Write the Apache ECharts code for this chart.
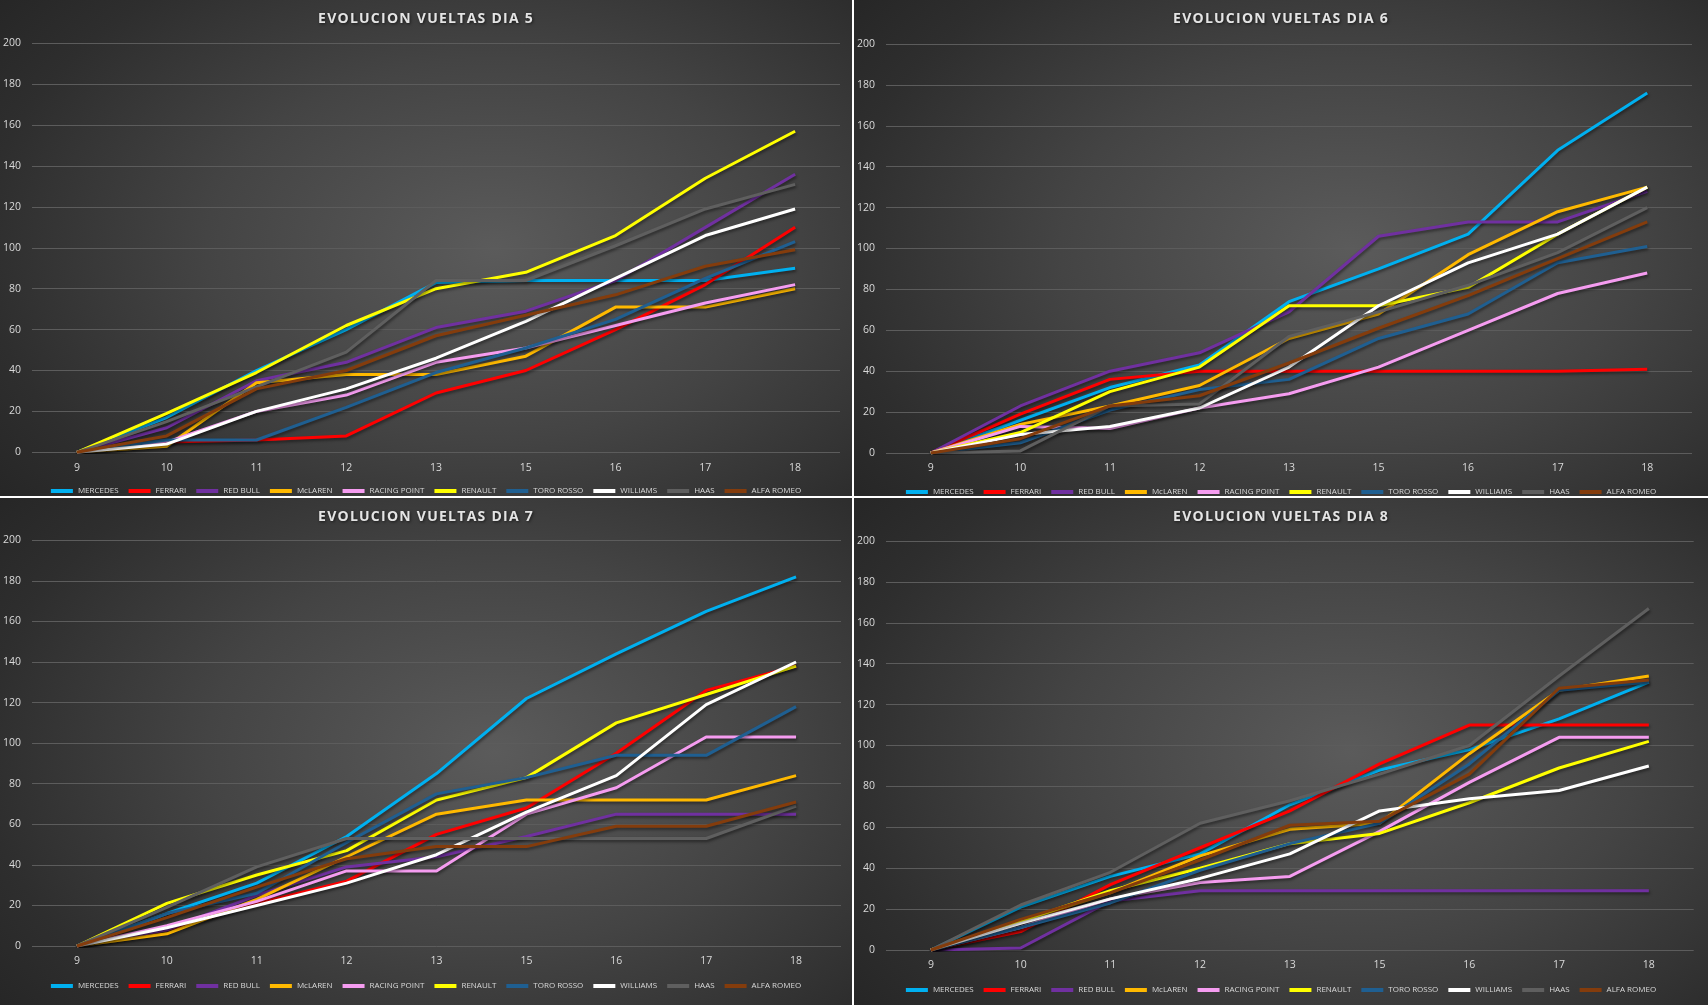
<!DOCTYPE html>
<html>
<head>
<meta charset="utf-8">
<script src="https://cdn.jsdelivr.net/npm/echarts@6/dist/echarts.min.js"></script>
<style>
  html, body { margin:0; padding:0; background:#ffffff; width:1708px; height:1005px; overflow:hidden; }
  .panel { position:absolute; background: radial-gradient(ellipse 75% 85% at 58% 50%, #5b5b5b 0%, #444444 45%, #2e2e2e 80%, #252525 100%); }
  .ptitle { position:absolute; left:0; right:0; top:8px; text-align:center; z-index:5; pointer-events:none;
    font-family:'Open Sans', sans-serif; font-weight:bold; font-size:14px; letter-spacing:1.25px; color:#e4e4e4;
    text-shadow: 1px 1px 3px rgba(0,0,0,0.6); line-height:20px; }
  .chart { position:absolute; left:0; top:0; width:100%; height:100%; }
</style>
</head>
<body>
<div class="panel" style="left:0;top:0;width:852px;height:496px"><div id="p1" class="chart"></div><div class="ptitle" id="t1"></div></div>
<div class="panel" style="left:854px;top:0;width:854px;height:496px"><div id="p2" class="chart"></div><div class="ptitle" id="t2"></div></div>
<div class="panel" style="left:0;top:498px;width:852px;height:507px"><div id="p3" class="chart"></div><div class="ptitle" id="t3"></div></div>
<div class="panel" style="left:854px;top:498px;width:854px;height:507px"><div id="p4" class="chart"></div><div class="ptitle" id="t4"></div></div>
<script>
// ---- data ----
const categories = ['9','10','11','12','13','15','16','17','18'];
const teams = ['MERCEDES','FERRARI','RED BULL','McLAREN','RACING POINT','RENAULT','TORO ROSSO','WILLIAMS','HAAS','ALFA ROMEO'];
const yTicks = [0,20,40,60,80,100,120,140,160,180,200];
const titles = ['EVOLUCION VUELTAS DIA 5','EVOLUCION VUELTAS DIA 6','EVOLUCION VUELTAS DIA 7','EVOLUCION VUELTAS DIA 8'];

// rows in team order
const dia5 = [
  [0,17,40,60,83,84,84,84,90],
  [0,5,6,8,29,40,60,82,110],
  [0,12,35,44,61,69,84,110,136],
  [0,3,34,38,38,47,71,71,80],
  [0,5,20,28,44,51,62,73,82],
  [0,19,39,62,80,88,106,134,157],
  [0,6,6,22,39,51,65,85,103],
  [0,4,20,31,46,64,85,106,119],
  [0,15,32,49,84,84,101,119,131],
  [0,8,31,40,57,67,77,91,99]
];
const dia6 = [
  [0,16,32,43,74,90,107,148,176],
  [0,19,36,40,40,40,40,40,41],
  [0,23,40,49,69,106,113,113,128],
  [0,14,23,33,56,68,97,118,130],
  [0,13,12,22,29,42,60,78,88],
  [0,10,30,42,72,72,81,107,130],
  [0,5,21,31,36,56,68,93,101],
  [0,9,13,22,42,72,93,107,130],
  [0,1,23,24,57,69,82,98,120],
  [0,7,23,28,44,61,77,95,113]
];
const dia7 = [
  [0,16,31,54,85,122,144,165,182],
  [0,8,21,32,55,68,95,126,138],
  [0,8,25,39,44,54,65,65,65],
  [0,6,23,44,65,72,72,72,84],
  [0,10,22,37,37,65,78,103,103],
  [0,21,35,47,72,83,110,124,138],
  [0,16,26,51,75,83,94,94,118],
  [0,9,20,31,45,66,84,119,140],
  [0,19,39,53,53,53,53,53,69],
  [0,14,29,43,49,49,59,59,71]
];
const dia8 = [
  [0,21,36,47,71,88,98,113,131],
  [0,9,32,50,68,91,110,110,110],
  [0,1,24,29,29,29,29,29,29],
  [0,14,28,46,59,62,96,127,134],
  [0,11,25,33,36,58,82,104,104],
  [0,14,29,40,52,57,72,89,102],
  [0,11,23,39,52,62,91,127,131],
  [0,13,25,35,47,68,74,78,90],
  [0,22,38,62,73,86,100,134,167],
  [0,15,28,44,61,63,86,128,132]
];

// ---- styles ----
const teamColors = ['#00b0f0','#ff0000','#7030a0','#ffb900','#f59cf0','#ffff00','#1f5f91','#ffffff','#5f5f5f','#843c0c'];
const layouts = [
  {id:'p1', t:'t1', left:30, top:43.3, height:409, legendTop:482},
  {id:'p2', t:'t2', left:28, top:44, height:409, legendTop:483},
  {id:'p3', t:'t3', left:31, top:42.3, height:405.7, legendTop:479},
  {id:'p4', t:'t4', left:29.7, top:43, height:409, legendTop:483}
];
const allData = [dia5, dia6, dia7, dia8];
const FONT = "'Open Sans', sans-serif";

layouts.forEach((lay, i) => {
  document.getElementById(lay.t).textContent = titles[i];
  const chart = echarts.init(document.getElementById(lay.id), null, {renderer:'canvas'});
  const data = allData[i];
  chart.setOption({
    backgroundColor: 'transparent',
    animation: false,
    legend: {
      data: teams, left: 'center', top: lay.legendTop,
      icon: 'rect', itemWidth: 22, itemHeight: 4, itemGap: 10,
      textStyle: {color:'#d9d9d9', fontFamily: FONT, fontSize: 8}
    },
    grid: {left: lay.left, top: lay.top, width: 810, height: lay.height, containLabel:false},
    xAxis: {
      type:'category', data: categories, boundaryGap: true,
      axisLine:{show:false}, axisTick:{show:false},
      axisLabel:{color:'#d9d9d9', fontFamily: FONT, fontSize:10.5, margin:10}
    },
    yAxis: {
      type:'value', min: yTicks[0], max: yTicks[yTicks.length-1], interval: yTicks[1]-yTicks[0],
      axisLine:{show:false}, axisTick:{show:false},
      axisLabel:{color:'#d9d9d9', fontFamily: FONT, fontSize:10.5, margin:11},
      splitLine:{lineStyle:{color:'#5c5c5c', width:1}}
    },
    series: teams.map((t, k) => ({
      name: t, type:'line', data: data[k], showSymbol:false, symbol:'none',
      color: teamColors[k],
      lineStyle: {width:3, color: teamColors[k], shadowColor:'rgba(0,0,0,0.45)', shadowBlur:3, shadowOffsetX:1, shadowOffsetY:2},
      z: 2 + k
    }))
  });
});
</script>
</body>
</html>
